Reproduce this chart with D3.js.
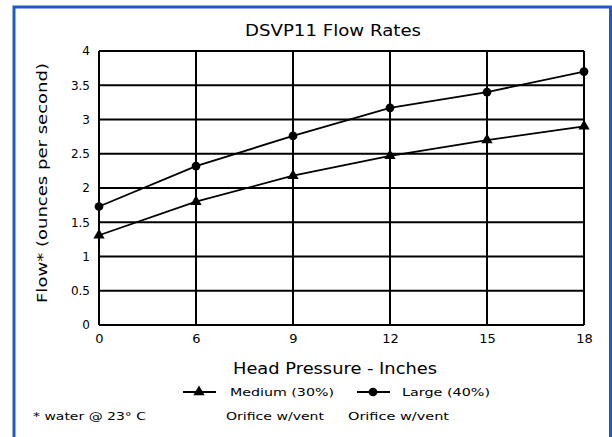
<!DOCTYPE html>
<html>
<head>
<meta charset="utf-8">
<style>
  body { margin: 0; background: #fff; }
  svg { display: block; }
  text { font-family: "DejaVu Sans", sans-serif; fill: #000; }
</style>
</head>
<body>
<svg id="chart" width="612" height="437"></svg>
<script src="https://d3js.org/d3.v7.min.js"></script>
<script>
// head pressure categories (inches) - spaced evenly in the original
var pressures = ["0", "6", "9", "12", "15", "18"];
var yTicks = [0, 0.5, 1, 1.5, 2, 2.5, 3, 3.5, 4];
var yTickLabels = ["0", "0.5", "1", "1.5", "2", "2.5", "3", "3.5", "4"];

// flow in ounces per second
var mediumFlow = [1.31, 1.80, 2.18, 2.47, 2.70, 2.90];
var largeFlow  = [1.73, 2.32, 2.76, 3.17, 3.40, 3.70];

var svg = d3.select("#chart");

// note: "top" is reserved on window, so use plot* names
var plotL = 99, plotR = 584, plotT = 51, plotB = 325;

var x = d3.scalePoint().domain(pressures).range([plotL, plotR]);
var y = d3.scaleLinear().domain([0, 4]).range([plotB, plotT]);

// blue frame
svg.append("rect")
    .attr("x", 14).attr("y", 7)
    .attr("width", 596.5).attr("height", 440)
    .attr("fill", "#fff")
    .attr("stroke", "#1c5ec0")
    .attr("stroke-width", 3);

// title
svg.append("text")
    .attr("x", 333).attr("y", 36)
    .attr("text-anchor", "middle")
    .attr("font-size", 15)
    .attr("textLength", 176).attr("lengthAdjust", "spacingAndGlyphs")
    .text("DSVP11 Flow Rates");

// grid
var g = svg.append("g");
g.selectAll("line.h")
    .data(yTicks)
    .enter().append("line")
    .attr("x1", plotL).attr("x2", plotR)
    .attr("y1", function(d) { return y(d); })
    .attr("y2", function(d) { return y(d); })
    .attr("stroke", "#000").attr("stroke-width", 2);

g.selectAll("line.v")
    .data(pressures)
    .enter().append("line")
    .attr("x1", function(d) { return x(d); })
    .attr("x2", function(d) { return x(d); })
    .attr("y1", plotT).attr("y2", plotB)
    .attr("stroke", "#000").attr("stroke-width", 2);

// y axis labels
var yAxis = d3.axisLeft(y)
    .tickValues(yTicks)
    .tickSize(0)
    .tickPadding(9)
    .tickFormat(function(d, i) { return yTickLabels[i]; });
svg.append("g")
    .attr("transform", "translate(" + plotL + ",0)")
    .call(yAxis)
    .call(function(s) { s.select(".domain").remove(); })
    .selectAll("text")
    .attr("font-size", 12)
    .attr("font-family", "DejaVu Sans");

// x axis labels
var xAxis = d3.axisBottom(x).tickSize(0).tickPadding(9);
svg.append("g")
    .attr("transform", "translate(0," + plotB + ")")
    .call(xAxis)
    .call(function(s) { s.select(".domain").remove(); })
    .selectAll("text")
    .attr("font-size", 13)
    .attr("font-family", "DejaVu Sans");

// axis titles
svg.append("text")
    .attr("transform", "translate(47,183) rotate(-90)")
    .attr("text-anchor", "middle")
    .attr("font-size", 14)
    .attr("textLength", 240).attr("lengthAdjust", "spacingAndGlyphs")
    .text("Flow* (ounces per second)");

svg.append("text")
    .attr("x", 335).attr("y", 374)
    .attr("text-anchor", "middle")
    .attr("font-size", 15)
    .attr("textLength", 204).attr("lengthAdjust", "spacingAndGlyphs")
    .text("Head Pressure - Inches");

// series
var line = d3.line()
    .x(function(d, i) { return x(pressures[i]); })
    .y(function(d) { return y(d); });

var tri = d3.symbol().type(d3.symbolTriangle).size(55);
var dot = d3.symbol().type(d3.symbolCircle).size(60);

function drawSeries(values, symbol) {
  svg.append("path")
      .datum(values)
      .attr("fill", "none")
      .attr("stroke", "#000")
      .attr("stroke-width", 1.8)
      .attr("d", line);
  svg.selectAll(null)
      .data(values)
      .enter().append("path")
      .attr("transform", function(d, i) { return "translate(" + x(pressures[i]) + "," + y(d) + ")"; })
      .attr("d", symbol)
      .attr("fill", "#000");
}
drawSeries(mediumFlow, tri);
drawSeries(largeFlow, dot);

// legend
var legend = [
  { name: "Medium (30%)", sym: tri, lx: 183, tx: 230, w: 104, sub: 226, sw: 98 },
  { name: "Large (40%)",  sym: dot, lx: 357, tx: 402, w: 88,  sub: 348, sw: 101 }
];
legend.forEach(function(d) {
  svg.append("line")
      .attr("x1", d.lx).attr("x2", d.lx + 33)
      .attr("y1", 392).attr("y2", 392)
      .attr("stroke", "#000").attr("stroke-width", 2);
  svg.append("path")
      .attr("transform", "translate(" + (d.lx + 16) + ",392)")
      .attr("d", d.sym)
      .attr("fill", "#000");
  svg.append("text")
      .attr("x", d.tx).attr("y", 396)
      .attr("font-size", 11)
      .attr("textLength", d.w).attr("lengthAdjust", "spacingAndGlyphs")
      .text(d.name);
  svg.append("text")
      .attr("x", d.sub).attr("y", 420)
      .attr("font-size", 11)
      .attr("textLength", d.sw).attr("lengthAdjust", "spacingAndGlyphs")
      .text("Orifice w/vent");
});

svg.append("text")
    .attr("x", 33).attr("y", 420)
    .attr("font-size", 11)
    .attr("textLength", 113).attr("lengthAdjust", "spacingAndGlyphs")
    .text("* water @ 23° C");
</script>
</body>
</html>
